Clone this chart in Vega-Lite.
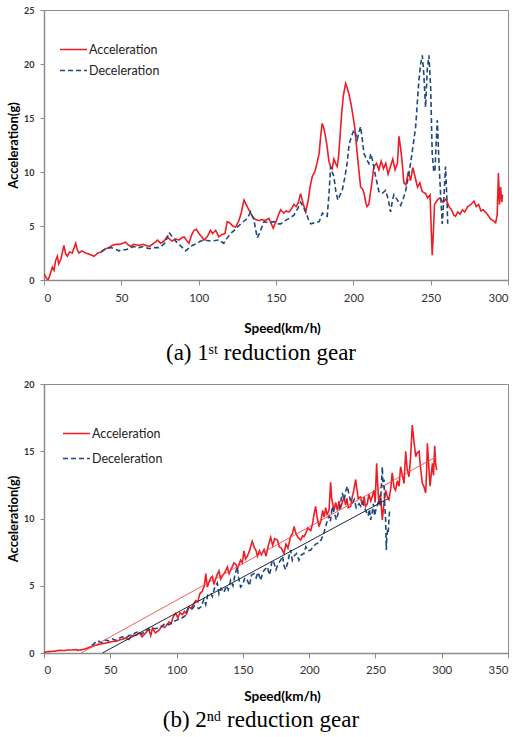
{
  "$schema": "https://vega.github.io/schema/vega-lite/v6.json",
  "padding": {"left": 7, "top": 5, "right": 5, "bottom": 5},
  "background": "white",
  "datasets": {
    "a": [
      {"v":0,"g":0.6,"s":"Acceleration"},{"v":1,"g":0.3,"s":"Acceleration"},{"v":2.6,"g":0,"s":"Acceleration"},{"v":4,"g":0.5,"s":"Acceleration"},{"v":5.4,"g":1.2,"s":"Acceleration"},{"v":6.5,"g":0.9,"s":"Acceleration"},{"v":7.5,"g":1.8,"s":"Acceleration"},{"v":8.6,"g":2.2,"s":"Acceleration"},{"v":9.5,"g":1.5,"s":"Acceleration"},{"v":10.8,"g":1.9,"s":"Acceleration"},{"v":11.8,"g":2.5,"s":"Acceleration"},{"v":12.9,"g":3.2,"s":"Acceleration"},{"v":14,"g":2.4,"s":"Acceleration"},{"v":15.1,"g":2.2,"s":"Acceleration"},{"v":16.5,"g":2.6,"s":"Acceleration"},{"v":18.3,"g":2.5,"s":"Acceleration"},{"v":19.5,"g":3.0,"s":"Acceleration"},{"v":20.5,"g":3.4,"s":"Acceleration"},{"v":21.5,"g":2.8,"s":"Acceleration"},{"v":22.6,"g":2.5,"s":"Acceleration"},{"v":24.5,"g":2.7,"s":"Acceleration"},{"v":26.9,"g":2.5,"s":"Acceleration"},{"v":29,"g":2.4,"s":"Acceleration"},{"v":32.3,"g":2.2,"s":"Acceleration"},{"v":35,"g":2.5,"s":"Acceleration"},{"v":37,"g":2.6,"s":"Acceleration"},{"v":39.9,"g":2.9,"s":"Acceleration"},{"v":42,"g":3.0,"s":"Acceleration"},{"v":44,"g":3.2,"s":"Acceleration"},{"v":46.3,"g":3.3,"s":"Acceleration"},{"v":49,"g":3.3,"s":"Acceleration"},{"v":51,"g":3.4,"s":"Acceleration"},{"v":52.8,"g":3.5,"s":"Acceleration"},{"v":54,"g":3.3,"s":"Acceleration"},{"v":56,"g":3.1,"s":"Acceleration"},{"v":58,"g":3.3,"s":"Acceleration"},{"v":61.4,"g":3.2,"s":"Acceleration"},{"v":64,"g":3.3,"s":"Acceleration"},{"v":67.9,"g":3.1,"s":"Acceleration"},{"v":70,"g":3.3,"s":"Acceleration"},{"v":72,"g":3.5,"s":"Acceleration"},{"v":73.3,"g":3.7,"s":"Acceleration"},{"v":75.4,"g":3.4,"s":"Acceleration"},{"v":77.5,"g":3.6,"s":"Acceleration"},{"v":79.7,"g":4.0,"s":"Acceleration"},{"v":81,"g":3.8,"s":"Acceleration"},{"v":82.9,"g":3.6,"s":"Acceleration"},{"v":85,"g":3.8,"s":"Acceleration"},{"v":87.2,"g":3.7,"s":"Acceleration"},{"v":89,"g":3.9,"s":"Acceleration"},{"v":90.5,"g":4.0,"s":"Acceleration"},{"v":92,"g":3.7,"s":"Acceleration"},{"v":93.7,"g":3.4,"s":"Acceleration"},{"v":95.5,"g":4.2,"s":"Acceleration"},{"v":97,"g":4.6,"s":"Acceleration"},{"v":98.5,"g":4.7,"s":"Acceleration"},{"v":100.2,"g":4.3,"s":"Acceleration"},{"v":102,"g":4.0,"s":"Acceleration"},{"v":103.4,"g":3.7,"s":"Acceleration"},{"v":105.5,"g":4.0,"s":"Acceleration"},{"v":107.7,"g":4.6,"s":"Acceleration"},{"v":109,"g":4.3,"s":"Acceleration"},{"v":111,"g":4.6,"s":"Acceleration"},{"v":113,"g":4.0,"s":"Acceleration"},{"v":115,"g":4.2,"s":"Acceleration"},{"v":117,"g":4.3,"s":"Acceleration"},{"v":118.5,"g":5.4,"s":"Acceleration"},{"v":120,"g":5.3,"s":"Acceleration"},{"v":122,"g":5.0,"s":"Acceleration"},{"v":123.9,"g":4.9,"s":"Acceleration"},{"v":126,"g":5.5,"s":"Acceleration"},{"v":127.5,"g":6.2,"s":"Acceleration"},{"v":129.3,"g":7.4,"s":"Acceleration"},{"v":131,"g":6.9,"s":"Acceleration"},{"v":133.6,"g":6.2,"s":"Acceleration"},{"v":135,"g":5.8,"s":"Acceleration"},{"v":136.8,"g":5.6,"s":"Acceleration"},{"v":139,"g":5.5,"s":"Acceleration"},{"v":141,"g":5.6,"s":"Acceleration"},{"v":143,"g":5.5,"s":"Acceleration"},{"v":145.4,"g":5.7,"s":"Acceleration"},{"v":147,"g":5.2,"s":"Acceleration"},{"v":148.2,"g":4.8,"s":"Acceleration"},{"v":150,"g":5.4,"s":"Acceleration"},{"v":151.5,"g":6.0,"s":"Acceleration"},{"v":153,"g":6.5,"s":"Acceleration"},{"v":155,"g":6.2,"s":"Acceleration"},{"v":156.5,"g":6.4,"s":"Acceleration"},{"v":158.4,"g":6.3,"s":"Acceleration"},{"v":160,"g":6.6,"s":"Acceleration"},{"v":161.6,"g":7.0,"s":"Acceleration"},{"v":163,"g":6.8,"s":"Acceleration"},{"v":164.5,"g":7.2,"s":"Acceleration"},{"v":165.9,"g":8.0,"s":"Acceleration"},{"v":167.5,"g":7.1,"s":"Acceleration"},{"v":169.2,"g":6.3,"s":"Acceleration"},{"v":171,"g":7.5,"s":"Acceleration"},{"v":172,"g":8.6,"s":"Acceleration"},{"v":173.5,"g":9.6,"s":"Acceleration"},{"v":175,"g":10.0,"s":"Acceleration"},{"v":176,"g":10.5,"s":"Acceleration"},{"v":177.9,"g":11.7,"s":"Acceleration"},{"v":179,"g":13.5,"s":"Acceleration"},{"v":179.9,"g":14.5,"s":"Acceleration"},{"v":181,"g":14.0,"s":"Acceleration"},{"v":182,"g":13.3,"s":"Acceleration"},{"v":183.1,"g":12.3,"s":"Acceleration"},{"v":184.2,"g":11.0,"s":"Acceleration"},{"v":185.3,"g":10.5,"s":"Acceleration"},{"v":186.3,"g":10.3,"s":"Acceleration"},{"v":187.4,"g":11.2,"s":"Acceleration"},{"v":188.5,"g":10.8,"s":"Acceleration"},{"v":189.6,"g":10.5,"s":"Acceleration"},{"v":190.5,"g":11.5,"s":"Acceleration"},{"v":191.5,"g":13.5,"s":"Acceleration"},{"v":192.5,"g":15.5,"s":"Acceleration"},{"v":193.5,"g":17.0,"s":"Acceleration"},{"v":195,"g":18.2,"s":"Acceleration"},{"v":196,"g":17.8,"s":"Acceleration"},{"v":197.2,"g":17.2,"s":"Acceleration"},{"v":198.5,"g":16.3,"s":"Acceleration"},{"v":200,"g":15.0,"s":"Acceleration"},{"v":201,"g":14.0,"s":"Acceleration"},{"v":202,"g":12.5,"s":"Acceleration"},{"v":203,"g":11.0,"s":"Acceleration"},{"v":204.7,"g":8.6,"s":"Acceleration"},{"v":206,"g":8.4,"s":"Acceleration"},{"v":207,"g":8.0,"s":"Acceleration"},{"v":208,"g":7.2,"s":"Acceleration"},{"v":208.8,"g":6.8,"s":"Acceleration"},{"v":210,"g":7.0,"s":"Acceleration"},{"v":211.5,"g":8.5,"s":"Acceleration"},{"v":213.3,"g":10.5,"s":"Acceleration"},{"v":215,"g":10.8,"s":"Acceleration"},{"v":216.5,"g":10.2,"s":"Acceleration"},{"v":218,"g":11.0,"s":"Acceleration"},{"v":219.5,"g":10.3,"s":"Acceleration"},{"v":221,"g":10.8,"s":"Acceleration"},{"v":222.5,"g":9.8,"s":"Acceleration"},{"v":224,"g":10.5,"s":"Acceleration"},{"v":225.5,"g":11.2,"s":"Acceleration"},{"v":227,"g":10.2,"s":"Acceleration"},{"v":228.5,"g":10.8,"s":"Acceleration"},{"v":229.5,"g":13.3,"s":"Acceleration"},{"v":230.5,"g":12.3,"s":"Acceleration"},{"v":231.5,"g":11.0,"s":"Acceleration"},{"v":232.7,"g":9.0,"s":"Acceleration"},{"v":234,"g":8.8,"s":"Acceleration"},{"v":235.5,"g":10.0,"s":"Acceleration"},{"v":237,"g":9.2,"s":"Acceleration"},{"v":238.5,"g":10.4,"s":"Acceleration"},{"v":240,"g":9.5,"s":"Acceleration"},{"v":241.5,"g":8.6,"s":"Acceleration"},{"v":243,"g":9.0,"s":"Acceleration"},{"v":244.5,"g":8.2,"s":"Acceleration"},{"v":246.7,"g":8.0,"s":"Acceleration"},{"v":248,"g":7.6,"s":"Acceleration"},{"v":249.6,"g":7.9,"s":"Acceleration"},{"v":250.3,"g":5.0,"s":"Acceleration"},{"v":251,"g":2.3,"s":"Acceleration"},{"v":251.8,"g":4.5,"s":"Acceleration"},{"v":252.5,"g":7.0,"s":"Acceleration"},{"v":254.3,"g":7.4,"s":"Acceleration"},{"v":256,"g":7.6,"s":"Acceleration"},{"v":258,"g":7.2,"s":"Acceleration"},{"v":260,"g":7.5,"s":"Acceleration"},{"v":261.8,"g":6.8,"s":"Acceleration"},{"v":263.5,"g":6.5,"s":"Acceleration"},{"v":265,"g":6.0,"s":"Acceleration"},{"v":266.1,"g":5.9,"s":"Acceleration"},{"v":267.5,"g":6.3,"s":"Acceleration"},{"v":269,"g":6.1,"s":"Acceleration"},{"v":270.5,"g":6.5,"s":"Acceleration"},{"v":272,"g":6.3,"s":"Acceleration"},{"v":274,"g":6.8,"s":"Acceleration"},{"v":276,"g":7.0,"s":"Acceleration"},{"v":278,"g":7.3,"s":"Acceleration"},{"v":279.5,"g":6.8,"s":"Acceleration"},{"v":281,"g":7.0,"s":"Acceleration"},{"v":282.5,"g":6.4,"s":"Acceleration"},{"v":284,"g":6.5,"s":"Acceleration"},{"v":286,"g":6.2,"s":"Acceleration"},{"v":287.5,"g":5.9,"s":"Acceleration"},{"v":289,"g":5.6,"s":"Acceleration"},{"v":290.5,"g":5.5,"s":"Acceleration"},{"v":292,"g":5.3,"s":"Acceleration"},{"v":293,"g":6.0,"s":"Acceleration"},{"v":293.8,"g":9.9,"s":"Acceleration"},{"v":294.5,"g":7.0,"s":"Acceleration"},{"v":295.2,"g":8.6,"s":"Acceleration"},{"v":296,"g":7.2,"s":"Acceleration"},{"v":296.5,"g":7.9,"s":"Acceleration"},
      {"v":37,"g":2.6,"s":"Deceleration"},{"v":38.8,"g":2.8,"s":"Deceleration"},{"v":41,"g":2.9,"s":"Deceleration"},{"v":43,"g":3.0,"s":"Deceleration"},{"v":45.5,"g":2.9,"s":"Deceleration"},{"v":48.5,"g":2.7,"s":"Deceleration"},{"v":50.5,"g":2.8,"s":"Deceleration"},{"v":52.8,"g":2.8,"s":"Deceleration"},{"v":55,"g":2.9,"s":"Deceleration"},{"v":58,"g":3.1,"s":"Deceleration"},{"v":61.4,"g":3.0,"s":"Deceleration"},{"v":64,"g":3.1,"s":"Deceleration"},{"v":67.9,"g":2.9,"s":"Deceleration"},{"v":71,"g":3.0,"s":"Deceleration"},{"v":74.3,"g":3.0,"s":"Deceleration"},{"v":76.5,"g":3.2,"s":"Deceleration"},{"v":78.6,"g":3.5,"s":"Deceleration"},{"v":80.8,"g":4.4,"s":"Deceleration"},{"v":83,"g":4.0,"s":"Deceleration"},{"v":85.1,"g":3.6,"s":"Deceleration"},{"v":88,"g":3.2,"s":"Deceleration"},{"v":91.6,"g":2.7,"s":"Deceleration"},{"v":94,"g":3.0,"s":"Deceleration"},{"v":95.9,"g":3.2,"s":"Deceleration"},{"v":99.1,"g":3.4,"s":"Deceleration"},{"v":101,"g":3.6,"s":"Deceleration"},{"v":103.4,"g":3.7,"s":"Deceleration"},{"v":108,"g":3.6,"s":"Deceleration"},{"v":113,"g":3.7,"s":"Deceleration"},{"v":116.2,"g":3.4,"s":"Deceleration"},{"v":118.5,"g":3.9,"s":"Deceleration"},{"v":120.6,"g":4.3,"s":"Deceleration"},{"v":123,"g":4.6,"s":"Deceleration"},{"v":125,"g":4.9,"s":"Deceleration"},{"v":128,"g":5.3,"s":"Deceleration"},{"v":131.4,"g":5.7,"s":"Deceleration"},{"v":133.6,"g":6.3,"s":"Deceleration"},{"v":135.7,"g":5.6,"s":"Deceleration"},{"v":136.8,"g":4.7,"s":"Deceleration"},{"v":137.9,"g":3.9,"s":"Deceleration"},{"v":139.5,"g":4.4,"s":"Deceleration"},{"v":142.2,"g":5.4,"s":"Deceleration"},{"v":145,"g":5.3,"s":"Deceleration"},{"v":148.7,"g":5.4,"s":"Deceleration"},{"v":151,"g":5.2,"s":"Deceleration"},{"v":153,"g":5.2,"s":"Deceleration"},{"v":156,"g":5.5,"s":"Deceleration"},{"v":158.4,"g":5.7,"s":"Deceleration"},{"v":161.6,"g":6.0,"s":"Deceleration"},{"v":164,"g":6.6,"s":"Deceleration"},{"v":165.9,"g":7.2,"s":"Deceleration"},{"v":167.5,"g":6.8,"s":"Deceleration"},{"v":169.2,"g":6.3,"s":"Deceleration"},{"v":171,"g":5.6,"s":"Deceleration"},{"v":172.4,"g":5.2,"s":"Deceleration"},{"v":175,"g":5.3,"s":"Deceleration"},{"v":177.9,"g":5.4,"s":"Deceleration"},{"v":180,"g":6.2,"s":"Deceleration"},{"v":181.5,"g":6.0,"s":"Deceleration"},{"v":183.1,"g":5.9,"s":"Deceleration"},{"v":184.3,"g":8.0,"s":"Deceleration"},{"v":185.3,"g":10.5,"s":"Deceleration"},{"v":186.3,"g":10.0,"s":"Deceleration"},{"v":187.4,"g":9.6,"s":"Deceleration"},{"v":188.7,"g":8.2,"s":"Deceleration"},{"v":190,"g":7.4,"s":"Deceleration"},{"v":191.5,"g":7.9,"s":"Deceleration"},{"v":192.8,"g":8.3,"s":"Deceleration"},{"v":194.5,"g":9.5,"s":"Deceleration"},{"v":196,"g":10.8,"s":"Deceleration"},{"v":197.2,"g":12.5,"s":"Deceleration"},{"v":198.2,"g":13.0,"s":"Deceleration"},{"v":199.3,"g":13.5,"s":"Deceleration"},{"v":200.4,"g":13.9,"s":"Deceleration"},{"v":201.5,"g":13.5,"s":"Deceleration"},{"v":202.5,"g":13.0,"s":"Deceleration"},{"v":203.5,"g":13.6,"s":"Deceleration"},{"v":204.7,"g":14.2,"s":"Deceleration"},{"v":205.8,"g":13.0,"s":"Deceleration"},{"v":206.9,"g":11.7,"s":"Deceleration"},{"v":208.5,"g":11.2,"s":"Deceleration"},{"v":210,"g":10.8,"s":"Deceleration"},{"v":211.3,"g":11.7,"s":"Deceleration"},{"v":212.5,"g":11.0,"s":"Deceleration"},{"v":214.4,"g":9.6,"s":"Deceleration"},{"v":216.5,"g":8.2,"s":"Deceleration"},{"v":218.5,"g":8.0,"s":"Deceleration"},{"v":220.8,"g":8.3,"s":"Deceleration"},{"v":222.5,"g":7.5,"s":"Deceleration"},{"v":224.1,"g":6.3,"s":"Deceleration"},{"v":225.2,"g":7.3,"s":"Deceleration"},{"v":226.2,"g":7.9,"s":"Deceleration"},{"v":228.5,"g":7.4,"s":"Deceleration"},{"v":230.6,"g":6.9,"s":"Deceleration"},{"v":232.2,"g":7.5,"s":"Deceleration"},{"v":233.9,"g":8.3,"s":"Deceleration"},{"v":235.5,"g":9.5,"s":"Deceleration"},{"v":237,"g":10.8,"s":"Deceleration"},{"v":238.7,"g":12.5,"s":"Deceleration"},{"v":240.3,"g":14.2,"s":"Deceleration"},{"v":241.4,"g":16.5,"s":"Deceleration"},{"v":242.4,"g":18.5,"s":"Deceleration"},{"v":243.5,"g":20.0,"s":"Deceleration"},{"v":244.6,"g":20.8,"s":"Deceleration"},{"v":245.6,"g":19.0,"s":"Deceleration"},{"v":246.7,"g":16.0,"s":"Deceleration"},{"v":247.8,"g":19.5,"s":"Deceleration"},{"v":248.9,"g":20.8,"s":"Deceleration"},{"v":250,"g":17.8,"s":"Deceleration"},{"v":251,"g":11.7,"s":"Deceleration"},{"v":252,"g":10.0,"s":"Deceleration"},{"v":252.8,"g":10.2,"s":"Deceleration"},{"v":253.5,"g":12.5,"s":"Deceleration"},{"v":254.3,"g":14.8,"s":"Deceleration"},{"v":255.3,"g":11.1,"s":"Deceleration"},{"v":256.4,"g":8.0,"s":"Deceleration"},{"v":257.5,"g":5.2,"s":"Deceleration"},{"v":258.5,"g":7.5,"s":"Deceleration"},{"v":259.6,"g":10.5,"s":"Deceleration"},{"v":260.2,"g":8.5,"s":"Deceleration"},{"v":260.7,"g":6.8,"s":"Deceleration"},{"v":261,"g":5.2,"s":"Deceleration"}
    ],
    "b": [
      {"v":0,"g":0.05,"s":"Acceleration"},{"v":3,"g":0.1,"s":"Acceleration"},{"v":6,"g":0.12,"s":"Acceleration"},{"v":9,"g":0.15,"s":"Acceleration"},{"v":12,"g":0.2,"s":"Acceleration"},{"v":15,"g":0.18,"s":"Acceleration"},{"v":18,"g":0.22,"s":"Acceleration"},{"v":21.4,"g":0.22,"s":"Acceleration"},{"v":24,"g":0.25,"s":"Acceleration"},{"v":26,"g":0.2,"s":"Acceleration"},{"v":28.5,"g":0.25,"s":"Acceleration"},{"v":31,"g":0.3,"s":"Acceleration"},{"v":33,"g":0.38,"s":"Acceleration"},{"v":36.5,"g":0.5,"s":"Acceleration"},{"v":40,"g":0.6,"s":"Acceleration"},{"v":44,"g":0.7,"s":"Acceleration"},{"v":47,"g":0.75,"s":"Acceleration"},{"v":51.5,"g":0.85,"s":"Acceleration"},{"v":55,"g":0.9,"s":"Acceleration"},{"v":58,"g":1.0,"s":"Acceleration"},{"v":61.6,"g":1.1,"s":"Acceleration"},{"v":64,"g":1.0,"s":"Acceleration"},{"v":66,"g":1.3,"s":"Acceleration"},{"v":69.2,"g":1.3,"s":"Acceleration"},{"v":72,"g":1.5,"s":"Acceleration"},{"v":74,"g":1.2,"s":"Acceleration"},{"v":76.8,"g":1.5,"s":"Acceleration"},{"v":79,"g":1.8,"s":"Acceleration"},{"v":80.5,"g":1.3,"s":"Acceleration"},{"v":81.8,"g":1.85,"s":"Acceleration"},{"v":84,"g":1.5,"s":"Acceleration"},{"v":86.8,"g":1.7,"s":"Acceleration"},{"v":89,"g":2.0,"s":"Acceleration"},{"v":91,"g":1.9,"s":"Acceleration"},{"v":94.3,"g":2.3,"s":"Acceleration"},{"v":96,"g":2.2,"s":"Acceleration"},{"v":97.5,"g":2.7,"s":"Acceleration"},{"v":99.4,"g":2.95,"s":"Acceleration"},{"v":101,"g":2.6,"s":"Acceleration"},{"v":102.5,"g":3.0,"s":"Acceleration"},{"v":104.4,"g":2.85,"s":"Acceleration"},{"v":106,"g":3.1,"s":"Acceleration"},{"v":107.5,"g":2.9,"s":"Acceleration"},{"v":109.4,"g":3.45,"s":"Acceleration"},{"v":111,"g":3.3,"s":"Acceleration"},{"v":112.5,"g":3.6,"s":"Acceleration"},{"v":114.4,"g":3.9,"s":"Acceleration"},{"v":116,"g":3.8,"s":"Acceleration"},{"v":117.5,"g":4.4,"s":"Acceleration"},{"v":119.4,"g":4.6,"s":"Acceleration"},{"v":121,"g":5.0,"s":"Acceleration"},{"v":122,"g":5.9,"s":"Acceleration"},{"v":123.2,"g":4.9,"s":"Acceleration"},{"v":124.5,"g":5.3,"s":"Acceleration"},{"v":126,"g":5.6,"s":"Acceleration"},{"v":127,"g":5.7,"s":"Acceleration"},{"v":128.2,"g":5.1,"s":"Acceleration"},{"v":129.5,"g":5.5,"s":"Acceleration"},{"v":130.5,"g":5.8,"s":"Acceleration"},{"v":132,"g":6.1,"s":"Acceleration"},{"v":133.2,"g":5.5,"s":"Acceleration"},{"v":135,"g":5.8,"s":"Acceleration"},{"v":136.5,"g":6.0,"s":"Acceleration"},{"v":138.3,"g":6.4,"s":"Acceleration"},{"v":139.6,"g":5.9,"s":"Acceleration"},{"v":141,"g":6.2,"s":"Acceleration"},{"v":143.3,"g":6.7,"s":"Acceleration"},{"v":144.6,"g":6.6,"s":"Acceleration"},{"v":146,"g":6.3,"s":"Acceleration"},{"v":148.3,"g":6.9,"s":"Acceleration"},{"v":149.5,"g":6.7,"s":"Acceleration"},{"v":150.9,"g":7.6,"s":"Acceleration"},{"v":152,"g":7.0,"s":"Acceleration"},{"v":153.4,"g":7.2,"s":"Acceleration"},{"v":155,"g":7.6,"s":"Acceleration"},{"v":157.1,"g":8.3,"s":"Acceleration"},{"v":158.4,"g":7.9,"s":"Acceleration"},{"v":160,"g":7.6,"s":"Acceleration"},{"v":161,"g":7.2,"s":"Acceleration"},{"v":162.5,"g":7.6,"s":"Acceleration"},{"v":164,"g":7.3,"s":"Acceleration"},{"v":166,"g":7.7,"s":"Acceleration"},{"v":167.5,"g":7.2,"s":"Acceleration"},{"v":169,"g":7.9,"s":"Acceleration"},{"v":171,"g":8.6,"s":"Acceleration"},{"v":172.5,"g":8.0,"s":"Acceleration"},{"v":174,"g":8.5,"s":"Acceleration"},{"v":176.1,"g":8.4,"s":"Acceleration"},{"v":177.5,"g":7.9,"s":"Acceleration"},{"v":179,"g":7.8,"s":"Acceleration"},{"v":181,"g":7.4,"s":"Acceleration"},{"v":182.5,"g":8.1,"s":"Acceleration"},{"v":184,"g":7.8,"s":"Acceleration"},{"v":186,"g":8.65,"s":"Acceleration"},{"v":187.5,"g":8.9,"s":"Acceleration"},{"v":188.6,"g":9.4,"s":"Acceleration"},{"v":190,"g":8.9,"s":"Acceleration"},{"v":191.5,"g":8.6,"s":"Acceleration"},{"v":193.6,"g":8.4,"s":"Acceleration"},{"v":195,"g":8.7,"s":"Acceleration"},{"v":196.1,"g":8.65,"s":"Acceleration"},{"v":197.5,"g":8.9,"s":"Acceleration"},{"v":199,"g":9.3,"s":"Acceleration"},{"v":201.2,"g":9.1,"s":"Acceleration"},{"v":202.5,"g":9.6,"s":"Acceleration"},{"v":203.5,"g":10.2,"s":"Acceleration"},{"v":204.9,"g":10.9,"s":"Acceleration"},{"v":205.8,"g":10.2,"s":"Acceleration"},{"v":207.5,"g":9.4,"s":"Acceleration"},{"v":209,"g":9.9,"s":"Acceleration"},{"v":210.2,"g":10.6,"s":"Acceleration"},{"v":211.3,"g":10.1,"s":"Acceleration"},{"v":212.5,"g":10.8,"s":"Acceleration"},{"v":213.5,"g":10.3,"s":"Acceleration"},{"v":215,"g":10.6,"s":"Acceleration"},{"v":216.2,"g":12.7,"s":"Acceleration"},{"v":217,"g":11.5,"s":"Acceleration"},{"v":218.8,"g":10.6,"s":"Acceleration"},{"v":220,"g":11.2,"s":"Acceleration"},{"v":221.3,"g":10.6,"s":"Acceleration"},{"v":222.5,"g":11.3,"s":"Acceleration"},{"v":223.5,"g":10.7,"s":"Acceleration"},{"v":225,"g":11.2,"s":"Acceleration"},{"v":226.3,"g":11.6,"s":"Acceleration"},{"v":227.5,"g":11.0,"s":"Acceleration"},{"v":228.5,"g":11.5,"s":"Acceleration"},{"v":229.5,"g":10.8,"s":"Acceleration"},{"v":231.3,"g":10.9,"s":"Acceleration"},{"v":232.5,"g":11.6,"s":"Acceleration"},{"v":233.5,"g":12.0,"s":"Acceleration"},{"v":235.1,"g":12.9,"s":"Acceleration"},{"v":236,"g":12.2,"s":"Acceleration"},{"v":237,"g":11.5,"s":"Acceleration"},{"v":238.8,"g":11.6,"s":"Acceleration"},{"v":240,"g":11.0,"s":"Acceleration"},{"v":241.5,"g":11.6,"s":"Acceleration"},{"v":242.5,"g":10.9,"s":"Acceleration"},{"v":243.9,"g":11.1,"s":"Acceleration"},{"v":245,"g":11.8,"s":"Acceleration"},{"v":246.5,"g":11.3,"s":"Acceleration"},{"v":247.5,"g":11.6,"s":"Acceleration"},{"v":248.9,"g":12.1,"s":"Acceleration"},{"v":249.8,"g":11.2,"s":"Acceleration"},{"v":250.9,"g":14.1,"s":"Acceleration"},{"v":251.7,"g":12.5,"s":"Acceleration"},{"v":252.7,"g":11.1,"s":"Acceleration"},{"v":253.8,"g":11.8,"s":"Acceleration"},{"v":255.2,"g":9.9,"s":"Acceleration"},{"v":256.3,"g":11.0,"s":"Acceleration"},{"v":257.7,"g":12.1,"s":"Acceleration"},{"v":259,"g":11.6,"s":"Acceleration"},{"v":260.2,"g":11.4,"s":"Acceleration"},{"v":261.5,"g":12.2,"s":"Acceleration"},{"v":262.7,"g":13.4,"s":"Acceleration"},{"v":264,"g":12.3,"s":"Acceleration"},{"v":265.2,"g":12.1,"s":"Acceleration"},{"v":266.5,"g":12.8,"s":"Acceleration"},{"v":267.8,"g":12.4,"s":"Acceleration"},{"v":269,"g":13.85,"s":"Acceleration"},{"v":270.3,"g":13.2,"s":"Acceleration"},{"v":271.6,"g":12.6,"s":"Acceleration"},{"v":272.8,"g":15.0,"s":"Acceleration"},{"v":274,"g":13.6,"s":"Acceleration"},{"v":275.3,"g":13.1,"s":"Acceleration"},{"v":276.5,"g":14.5,"s":"Acceleration"},{"v":277.8,"g":16.95,"s":"Acceleration"},{"v":279,"g":15.8,"s":"Acceleration"},{"v":280.4,"g":14.6,"s":"Acceleration"},{"v":281.6,"g":14.9,"s":"Acceleration"},{"v":282.9,"g":15.0,"s":"Acceleration"},{"v":284,"g":13.8,"s":"Acceleration"},{"v":285.4,"g":12.6,"s":"Acceleration"},{"v":286.5,"g":12.4,"s":"Acceleration"},{"v":287.9,"g":11.9,"s":"Acceleration"},{"v":288.6,"g":13.5,"s":"Acceleration"},{"v":289.2,"g":15.6,"s":"Acceleration"},{"v":290.2,"g":14.0,"s":"Acceleration"},{"v":291.2,"g":12.4,"s":"Acceleration"},{"v":292,"g":13.2,"s":"Acceleration"},{"v":293,"g":14.1,"s":"Acceleration"},{"v":293.8,"g":13.2,"s":"Acceleration"},{"v":294.7,"g":15.4,"s":"Acceleration"},{"v":295.5,"g":14.0,"s":"Acceleration"},{"v":296.2,"g":13.6,"s":"Acceleration"},
      {"v":36,"g":0.6,"s":"Deceleration"},{"v":37.7,"g":0.67,"s":"Deceleration"},{"v":39.5,"g":0.9,"s":"Deceleration"},{"v":41.5,"g":0.86,"s":"Deceleration"},{"v":43.5,"g":0.75,"s":"Deceleration"},{"v":46.5,"g":0.97,"s":"Deceleration"},{"v":49,"g":0.9,"s":"Deceleration"},{"v":51.5,"g":1.05,"s":"Deceleration"},{"v":54,"g":0.95,"s":"Deceleration"},{"v":56.5,"g":1.1,"s":"Deceleration"},{"v":59,"g":1.2,"s":"Deceleration"},{"v":61.5,"g":1.1,"s":"Deceleration"},{"v":64,"g":1.3,"s":"Deceleration"},{"v":66.6,"g":1.36,"s":"Deceleration"},{"v":69,"g":1.5,"s":"Deceleration"},{"v":71.5,"g":1.6,"s":"Deceleration"},{"v":74,"g":1.4,"s":"Deceleration"},{"v":76.6,"g":1.73,"s":"Deceleration"},{"v":79,"g":1.7,"s":"Deceleration"},{"v":81.5,"g":1.85,"s":"Deceleration"},{"v":84,"g":1.8,"s":"Deceleration"},{"v":86.7,"g":1.9,"s":"Deceleration"},{"v":89,"g":2.0,"s":"Deceleration"},{"v":91.5,"g":2.2,"s":"Deceleration"},{"v":94,"g":2.1,"s":"Deceleration"},{"v":96.8,"g":2.26,"s":"Deceleration"},{"v":99,"g":2.4,"s":"Deceleration"},{"v":101.5,"g":2.5,"s":"Deceleration"},{"v":104,"g":2.6,"s":"Deceleration"},{"v":106.9,"g":2.8,"s":"Deceleration"},{"v":108.5,"g":3.3,"s":"Deceleration"},{"v":110,"g":3.4,"s":"Deceleration"},{"v":111.9,"g":3.3,"s":"Deceleration"},{"v":113.5,"g":3.5,"s":"Deceleration"},{"v":115,"g":3.4,"s":"Deceleration"},{"v":116.9,"g":3.3,"s":"Deceleration"},{"v":118.5,"g":3.45,"s":"Deceleration"},{"v":120.7,"g":4.0,"s":"Deceleration"},{"v":122,"g":3.6,"s":"Deceleration"},{"v":123.5,"g":4.3,"s":"Deceleration"},{"v":125.7,"g":4.45,"s":"Deceleration"},{"v":127,"g":4.2,"s":"Deceleration"},{"v":128.5,"g":4.8,"s":"Deceleration"},{"v":130.7,"g":5.2,"s":"Deceleration"},{"v":132,"g":4.4,"s":"Deceleration"},{"v":133.5,"g":4.8,"s":"Deceleration"},{"v":135.8,"g":4.5,"s":"Deceleration"},{"v":137.5,"g":5.0,"s":"Deceleration"},{"v":139,"g":4.7,"s":"Deceleration"},{"v":140.8,"g":5.4,"s":"Deceleration"},{"v":142.5,"g":5.0,"s":"Deceleration"},{"v":144.2,"g":5.9,"s":"Deceleration"},{"v":145.8,"g":6.4,"s":"Deceleration"},{"v":146.8,"g":5.6,"s":"Deceleration"},{"v":148.3,"g":4.9,"s":"Deceleration"},{"v":150,"g":5.1,"s":"Deceleration"},{"v":151.5,"g":5.6,"s":"Deceleration"},{"v":153.4,"g":5.4,"s":"Deceleration"},{"v":155,"g":5.0,"s":"Deceleration"},{"v":156.5,"g":5.8,"s":"Deceleration"},{"v":158.4,"g":5.9,"s":"Deceleration"},{"v":160,"g":5.6,"s":"Deceleration"},{"v":161.5,"g":6.0,"s":"Deceleration"},{"v":163.5,"g":5.4,"s":"Deceleration"},{"v":165,"g":6.0,"s":"Deceleration"},{"v":166.5,"g":6.2,"s":"Deceleration"},{"v":168.5,"g":6.4,"s":"Deceleration"},{"v":170,"g":5.8,"s":"Deceleration"},{"v":171,"g":6.2,"s":"Deceleration"},{"v":172,"g":6.9,"s":"Deceleration"},{"v":173.5,"g":6.7,"s":"Deceleration"},{"v":175,"g":6.2,"s":"Deceleration"},{"v":176.5,"g":6.6,"s":"Deceleration"},{"v":178.5,"g":6.9,"s":"Deceleration"},{"v":180,"g":7.2,"s":"Deceleration"},{"v":181,"g":6.5,"s":"Deceleration"},{"v":182.3,"g":6.2,"s":"Deceleration"},{"v":184,"g":6.8,"s":"Deceleration"},{"v":185,"g":7.3,"s":"Deceleration"},{"v":186,"g":7.66,"s":"Deceleration"},{"v":187.3,"g":6.9,"s":"Deceleration"},{"v":188.6,"g":7.2,"s":"Deceleration"},{"v":190.5,"g":7.4,"s":"Deceleration"},{"v":192.3,"g":6.9,"s":"Deceleration"},{"v":194,"g":7.3,"s":"Deceleration"},{"v":196.1,"g":7.4,"s":"Deceleration"},{"v":197.5,"g":7.9,"s":"Deceleration"},{"v":199,"g":7.6,"s":"Deceleration"},{"v":201.2,"g":7.66,"s":"Deceleration"},{"v":203,"g":7.9,"s":"Deceleration"},{"v":205,"g":8.1,"s":"Deceleration"},{"v":207.5,"g":8.2,"s":"Deceleration"},{"v":209,"g":8.4,"s":"Deceleration"},{"v":210,"g":8.65,"s":"Deceleration"},{"v":211.3,"g":9.0,"s":"Deceleration"},{"v":212.5,"g":9.4,"s":"Deceleration"},{"v":213.5,"g":9.8,"s":"Deceleration"},{"v":215,"g":10.2,"s":"Deceleration"},{"v":216,"g":9.8,"s":"Deceleration"},{"v":217.5,"g":10.9,"s":"Deceleration"},{"v":219,"g":10.4,"s":"Deceleration"},{"v":220.5,"g":9.9,"s":"Deceleration"},{"v":222.5,"g":10.6,"s":"Deceleration"},{"v":223.8,"g":11.2,"s":"Deceleration"},{"v":225,"g":11.9,"s":"Deceleration"},{"v":226.5,"g":11.4,"s":"Deceleration"},{"v":227.5,"g":12.0,"s":"Deceleration"},{"v":228.8,"g":12.4,"s":"Deceleration"},{"v":230,"g":11.8,"s":"Deceleration"},{"v":231.3,"g":11.3,"s":"Deceleration"},{"v":232.5,"g":11.1,"s":"Deceleration"},{"v":234,"g":11.4,"s":"Deceleration"},{"v":235.5,"g":10.8,"s":"Deceleration"},{"v":237.6,"g":11.1,"s":"Deceleration"},{"v":239,"g":10.9,"s":"Deceleration"},{"v":240.5,"g":11.2,"s":"Deceleration"},{"v":242.6,"g":10.6,"s":"Deceleration"},{"v":244.5,"g":10.2,"s":"Deceleration"},{"v":245.5,"g":10.7,"s":"Deceleration"},{"v":246.4,"g":9.9,"s":"Deceleration"},{"v":247.5,"g":10.4,"s":"Deceleration"},{"v":248.5,"g":11.1,"s":"Deceleration"},{"v":249.4,"g":10.2,"s":"Deceleration"},{"v":250.2,"g":10.6,"s":"Deceleration"},{"v":251.5,"g":11.0,"s":"Deceleration"},{"v":252.7,"g":11.4,"s":"Deceleration"},{"v":253.8,"g":10.9,"s":"Deceleration"},{"v":254.5,"g":12.5,"s":"Deceleration"},{"v":255.2,"g":13.85,"s":"Deceleration"},{"v":255.8,"g":12.3,"s":"Deceleration"},{"v":256.5,"g":12.9,"s":"Deceleration"},{"v":257,"g":11.0,"s":"Deceleration"},{"v":257.7,"g":9.9,"s":"Deceleration"},{"v":258,"g":8.8,"s":"Deceleration"},{"v":258.2,"g":7.66,"s":"Deceleration"},{"v":258.6,"g":8.6,"s":"Deceleration"},{"v":259.2,"g":9.2,"s":"Deceleration"},{"v":259.7,"g":9.0,"s":"Deceleration"},{"v":260.2,"g":9.9,"s":"Deceleration"},{"v":260.7,"g":10.6,"s":"Deceleration"}
    ],
    "fit": [
      {"v":28,"g":0,"fit":"Acceleration"},{"v":296,"g":14.6,"fit":"Acceleration"},
      {"v":44,"g":0,"fit":"Deceleration"},{"v":260,"g":11.5,"fit":"Deceleration"}
    ]
  },
  "bounds": "flush",
  "spacing": 104,
  "resolve": {"scale": {"color": "independent", "strokeDash": "independent"}},
  "vconcat": [
    {
      "width": 464,
      "height": 270,
      "title": {"text": "(a) 1ˢᵗ reduction gear", "offset": 7},
      "data": {"name": "a"},
      "mark": {"type": "line", "strokeWidth": 1.6, "clip": true},
      "encoding": {
        "x": {"field": "v", "type": "quantitative", "scale": {"domain": [0, 300], "nice": false}, "axis": {"values": [0, 50, 100, 150, 200, 250, 300], "title": "Speed(km/h)", "labelPadding": 7, "titlePadding": 18}},
        "y": {"field": "g", "type": "quantitative", "scale": {"domain": [0, 25], "nice": false}, "axis": {"values": [0, 5, 10, 15, 20, 25], "title": "Acceleration(g)"}},
        "color": {"field": "s", "type": "nominal", "scale": {"domain": ["Acceleration", "Deceleration"], "range": ["#ee1c25", "#1f497d"]},
          "legend": {"orient": "none", "legendX": 15, "legendY": 25, "title": null, "symbolType": "stroke", "symbolSize": 729, "symbolStrokeWidth": 1.6, "labelFontSize": 12.5, "labelFont": "Lato", "labelColor": "#222", "rowPadding": 0, "labelOffset": 1}},
        "strokeDash": {"field": "s", "type": "nominal", "scale": {"domain": ["Acceleration", "Deceleration"], "range": [[1, 0], [5, 3]]},
          "legend": {"orient": "none", "legendX": 15, "legendY": 25, "title": null, "symbolType": "stroke", "symbolSize": 729, "symbolStrokeWidth": 1.6, "labelFontSize": 12.5, "labelFont": "Lato", "labelColor": "#222", "rowPadding": 0, "labelOffset": 1}}
      }
    },
    {
      "width": 464,
      "height": 269,
      "title": {"text": "(b) 2ⁿᵈ reduction gear", "offset": 6},
      "layer": [
        {
          "data": {"name": "b"},
          "mark": {"type": "line", "strokeWidth": 1.6, "clip": true},
          "encoding": {
            "x": {"field": "v", "type": "quantitative", "scale": {"domain": [0, 350], "nice": false}, "axis": {"values": [0, 50, 100, 150, 200, 250, 300, 350], "title": "Speed(km/h)", "labelPadding": 6, "titlePadding": 14}},
            "y": {"field": "g", "type": "quantitative", "scale": {"domain": [0, 20], "nice": false}, "axis": {"values": [0, 5, 10, 15, 20], "title": "Acceleration(g)"}},
            "color": {"field": "s", "type": "nominal", "scale": {"domain": ["Acceleration", "Deceleration"], "range": ["#ee1c25", "#1f497d"]},
              "legend": {"orient": "none", "legendX": 18, "legendY": 35, "title": null, "symbolType": "stroke", "symbolSize": 729, "symbolStrokeWidth": 1.6, "labelFontSize": 12.5, "labelFont": "Lato", "labelColor": "#222", "rowPadding": 4, "labelOffset": 1}},
            "strokeDash": {"field": "s", "type": "nominal", "scale": {"domain": ["Acceleration", "Deceleration"], "range": [[1, 0], [5, 3]]},
              "legend": {"orient": "none", "legendX": 18, "legendY": 35, "title": null, "symbolType": "stroke", "symbolSize": 729, "symbolStrokeWidth": 1.6, "labelFontSize": 12.5, "labelFont": "Lato", "labelColor": "#222", "rowPadding": 4, "labelOffset": 1}}
          }
        },
        {
          "data": {"name": "fit"},
          "transform": [{"filter": "datum.fit === 'Acceleration'"}],
          "mark": {"type": "line", "strokeWidth": 0.9, "color": "#f24a4f", "clip": true},
          "encoding": {"x": {"field": "v", "type": "quantitative"}, "y": {"field": "g", "type": "quantitative"}}
        },
        {
          "data": {"name": "fit"},
          "transform": [{"filter": "datum.fit === 'Deceleration'"}],
          "mark": {"type": "line", "strokeWidth": 1, "color": "#1c2838", "clip": true},
          "encoding": {"x": {"field": "v", "type": "quantitative"}, "y": {"field": "g", "type": "quantitative"}}
        }
      ]
    }
  ],
  "config": {
    "view": {"stroke": "#8c8c8c", "strokeWidth": 1},
    "axis": {"grid": false, "domainColor": "#8c8c8c", "domainWidth": 1.5, "tickColor": "#8c8c8c", "tickWidth": 1, "labelFont": "Lato", "titleFont": "Lato", "labelColor": "#333", "titleColor": "#000", "titleFontWeight": "bold"},
    "axisX": {"tickSize": 5, "labelFontSize": 11.5, "titleFontSize": 13.5, "titleX": 238},
    "axisY": {"tickSize": 4, "labelFontSize": 9, "labelFontWeight": "bold", "labelPadding": 6, "titleFontSize": 13, "titlePadding": 3},
    "title": {"orient": "bottom", "font": "Liberation Serif", "fontSize": 23, "fontWeight": "normal", "color": "#000", "dx": -15}
  }
}
